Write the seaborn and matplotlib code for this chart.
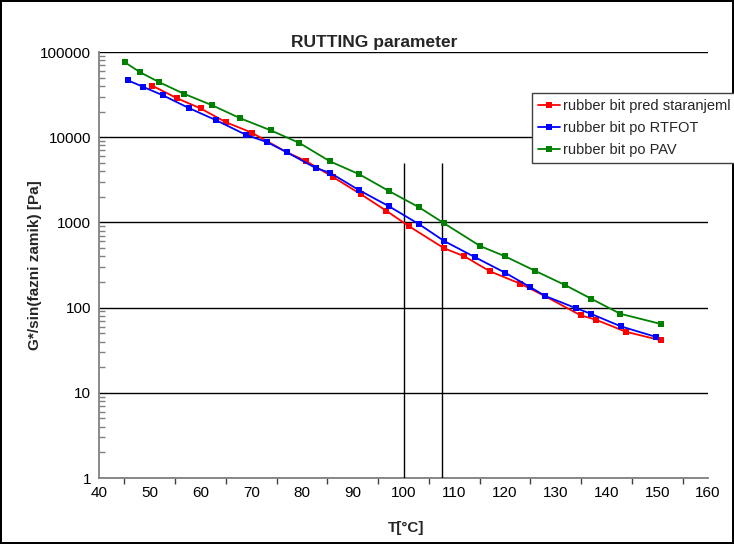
import matplotlib
matplotlib.use("Agg")
import matplotlib.pyplot as plt
import seaborn as sns
import pandas as pd
from matplotlib.ticker import FixedLocator, MultipleLocator, LogLocator, NullFormatter
from matplotlib.lines import Line2D

# ---- data ----
red_label = "rubber bit pred staranjeml"
blue_label = "rubber bit po RTFOT"
green_label = "rubber bit po PAV"

red_T = [50.5, 55.4, 60.0, 65.0, 70.1, 77.0, 80.8, 86.2, 91.6, 96.6, 101.1, 108.0,
         112.0, 117.0, 123.0, 127.9, 134.9, 137.9, 143.8, 150.7]
red_G = [40200, 28600, 21800, 15000, 11300, 6660, 5250, 3380, 2140, 1370, 900, 497,
         400, 267, 191, 136, 81.2, 72.1, 52.1, 41.3]

blue_T = [45.7, 48.6, 52.6, 57.7, 63.1, 68.9, 73.2, 77.0, 82.7, 85.5, 91.3, 97.1,
          103.1, 108.0, 114.0, 120.0, 124.9, 127.9, 133.9, 136.9, 142.8, 149.8]
blue_G = [46500, 39200, 31000, 22000, 15800, 10700, 8710, 6660, 4350, 3830, 2380, 1550,
          950, 605, 393, 257, 175, 137, 98.9, 84.7, 60.3, 45.2]

green_T = [45.1, 48.1, 51.9, 56.7, 62.3, 67.8, 73.9, 79.5, 85.5, 91.3, 97.1, 103.1,
           108.0, 115.1, 120.0, 126.0, 131.9, 137.0, 142.7, 150.7]
green_G = [75700, 57800, 44100, 32400, 23700, 16700, 12000, 8550, 5210, 3670, 2340, 1500,
           975, 528, 400, 269, 183, 127, 84.7, 64.3]

ref_temps = [100, 107.5]
ref_top = 5000

x_ticks = [40, 50, 60, 70, 80, 90, 100, 110, 120, 130, 140, 150, 160]
y_ticks = [1, 10, 100, 1000, 10000, 100000]
y_ticklabels = ["1", "10", "100", "1000", "10000", "100000"]

title = "RUTTING parameter"
xlabel = "T[°C]"
ylabel = "G*/sin(fazni zamik) [Pa]"

# ---- build frame ----
frames = []
for lab, T, G in [(red_label, red_T, red_G), (blue_label, blue_T, blue_G), (green_label, green_T, green_G)]:
    frames.append(pd.DataFrame({"T": T, "G": G, "series": lab}))
df = pd.concat(frames, ignore_index=True)

sns.set_theme(style="white")
plt.rcParams['font.family'] = ['Liberation Sans', 'DejaVu Sans']

fig = plt.figure(figsize=(7.34, 5.44), dpi=100, edgecolor="black", linewidth=1.5)
ax = fig.add_axes([99/734, 1-478/544, (708-99)/734, (478-52)/544])

palette = {red_label: "#FF0000", blue_label: "#0000FF", green_label: "#008000"}
sns.lineplot(data=df, x="T", y="G", hue="series", palette=palette, style="series",
             markers={red_label: "s", blue_label: "s", green_label: "s"},
             dashes=False, sort=False, estimator=None, ax=ax,
             linewidth=1.3, markersize=4.5, markeredgewidth=0, legend=False, zorder=5)

ax.set_yscale("log")
ax.set_xlim(40, 160)
ax.set_ylim(1, 100000)

ax.yaxis.set_major_locator(FixedLocator(y_ticks))
ax.set_yticklabels(y_ticklabels)
ax.yaxis.set_minor_locator(LogLocator(base=10, subs=range(2, 10)))
ax.yaxis.set_minor_formatter(NullFormatter())
ax.grid(axis="y", which="major", color="black", linewidth=1.0)
ax.grid(axis="x", visible=False)

ax.xaxis.set_major_locator(FixedLocator(x_ticks))
ax.xaxis.set_minor_locator(MultipleLocator(5))

ax.tick_params(axis="both", which="major", labelsize=11, colors="#000000", length=5, width=1, pad=2)
ax.tick_params(axis="y", which="major", direction="inout", length=8, color="#808080", pad=1.5)
ax.tick_params(axis="y", which="minor", direction="in", length=4, width=1, color="#808080", left=True)
ax.tick_params(axis="x", which="major", direction="out", length=4, color="#404040", pad=2)
ax.tick_params(axis="x", which="minor", direction="out", length=4, width=1, color="#404040", bottom=True)

for s in ["top", "right"]:
    ax.spines[s].set_visible(False)
for s in ["left", "bottom"]:
    ax.spines[s].set_color("#808080")
    ax.spines[s].set_linewidth(1.3)

ax.vlines(ref_temps, 1, ref_top, colors="black", linewidth=1.0, zorder=4)

ax.set_xlabel(xlabel, fontsize=11, fontweight="bold")
ax.xaxis.set_label_coords(0.505, -(521-478)/426, transform=ax.transAxes)
ax.set_ylabel(ylabel, fontsize=11, fontweight="bold")
ax.yaxis.set_label_coords(-(99-42)/609, 0.5, transform=ax.transAxes)

fig.text(374/734, 1-42/544, title, ha="center", va="center", fontsize=12.5, fontweight="bold")

handles = [Line2D([0], [0], color=palette[l], marker="s", markersize=4, markeredgewidth=0, linewidth=1.3)
           for l in [red_label, blue_label, green_label]]
leg = fig.legend(handles, [red_label, blue_label, green_label], loc="upper left",
                 bbox_to_anchor=(532/734, 1-93/544), fontsize=10.5, frameon=True, fancybox=False,
                 framealpha=1, edgecolor="#404040", handlelength=1.5, handletextpad=0.2,
                 labelspacing=0.55, borderpad=0.4, borderaxespad=0)
leg.get_frame().set_linewidth(1.0)

fig.savefig("out.png", dpi=100, edgecolor=fig.get_edgecolor())
